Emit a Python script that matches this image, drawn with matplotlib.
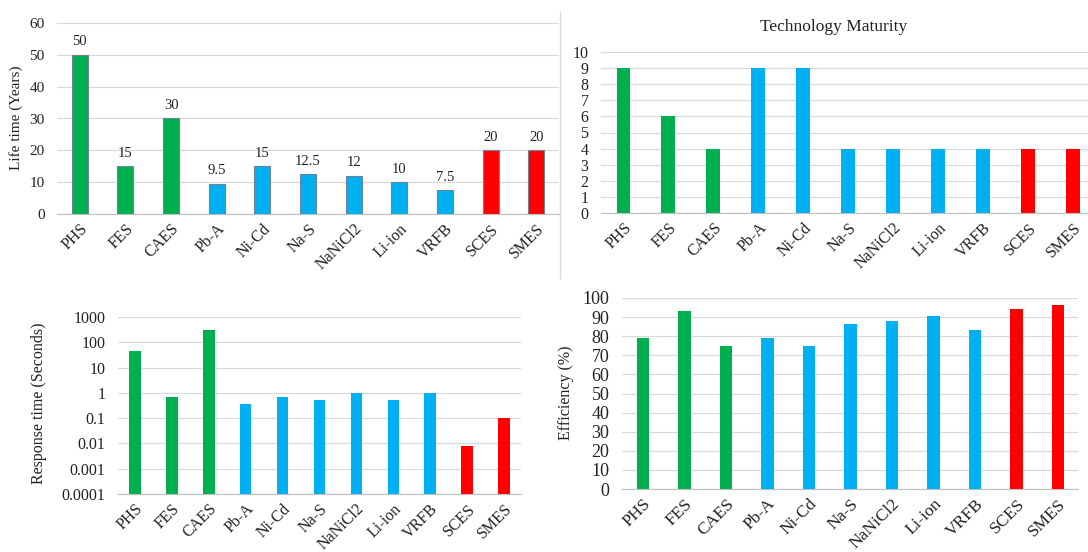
import matplotlib.pyplot as plt
import numpy as np

plt.rcParams['font.family'] = ['Liberation Serif', 'DejaVu Serif']

techs = ["PHS", "FES", "CAES", "Pb-A", "Ni-Cd", "Na-S", "NaNiCl2", "Li-ion", "VRFB", "SCES", "SMES"]
groups = ["mech", "mech", "mech", "chem", "chem", "chem", "chem", "chem", "chem", "elec", "elec"]
lifetime = [50, 15, 30, 9.5, 15, 12.5, 12, 10, 7.5, 20, 20]
lifetime_labels = ["50", "15", "30", "9.5", "15", "12.5", "12", "10", "7.5", "20", "20"]
maturity = [9, 6, 4, 9, 9, 4, 4, 4, 4, 4, 4]
response = [45, 0.7, 300, 0.35, 0.7, 0.5, 1, 0.5, 1, 0.008, 0.1]
efficiency = [79, 93, 75, 79, 75, 86.5, 88, 90.8, 83, 94.5, 96.2]

palette = {"mech": "#00b050", "chem": "#00b0f0", "elec": "#ff0000"}
colors = [palette[g] for g in groups]
TXT = "#222222"

W, H = 1088, 552
fig = plt.figure(figsize=(W / 100, H / 100), dpi=100)


def panel(x0, x1, ytop, ybot):
    # pixel box -> figure fraction
    return fig.add_axes([x0 / W, 1 - ybot / H, (x1 - x0) / W, (ybot - ytop) / H])


def style(ax, tick_size=11, cat_size=11.5):
    for s in ["top", "right", "left"]:
        ax.spines[s].set_visible(False)
    ax.spines["bottom"].set_color("#bfbfbf")
    ax.grid(axis="y", color="#d9d9d9", linewidth=0.9)
    ax.set_axisbelow(True)
    ax.tick_params(length=0, colors=TXT)
    ax.tick_params(axis="y", labelsize=tick_size, pad=9)
    ax.set_xticks(np.arange(len(techs)))
    ax.set_xticklabels(techs, rotation=45, ha="right", rotation_mode="anchor", fontsize=cat_size)
    ax.tick_params(axis="x", pad=5)


def ylabel(text, px, py, size=11):
    fig.text(px / W, 1 - py / H, text, rotation=90, ha="center", va="center", fontsize=size, color=TXT)


x = np.arange(len(techs))

# lifetime
ax1 = panel(57, 559, 23, 214)
bars = ax1.bar(x, lifetime, width=0.35, color=colors, edgecolor="#6f8295", linewidth=0.8)
ax1.set_xlim(-0.5, 10.5)
ax1.set_ylim(0, 60)
ax1.set_yticks(range(0, 61, 10))
style(ax1)
ylabel("Life time (Years)", 16, 118)
for b, v, t in zip(bars, lifetime, lifetime_labels):
    ax1.text(b.get_x() + b.get_width() / 2, v + 2, t, ha="center", va="bottom", fontsize=10.5, color=TXT)

# technology maturity
ax2 = panel(601, 1088, 52, 213)
ax2.bar(x, maturity, width=0.31, color=colors)
ax2.set_xlim(-0.5, 10.33)
ax2.set_ylim(0, 10)
ax2.set_yticks(range(0, 11))
style(ax2, tick_size=11.5)
fig.text(834 / W, 1 - 27 / H, "Technology Maturity", ha="center", va="center", fontsize=12.5, color=TXT)

# response time (log scale)
ax3 = panel(118, 521, 317, 494)
ax3.bar(x, response, width=0.31, color=colors, bottom=1e-4)
ax3.set_yscale("log")
ax3.set_xlim(-0.46, 10.46)
ax3.set_ylim(1e-4, 1000)
ticks = [1e-4, 1e-3, 1e-2, 1e-1, 1, 10, 100, 1000]
ax3.set_yticks(ticks)
ax3.set_yticklabels(["0.0001", "0.001", "0.01", "0.1", "1", "10", "100", "1000"])
ax3.minorticks_off()
style(ax3, tick_size=11.5)
ylabel("Response time (Seconds)", 39, 403, size=11.5)

# efficiency
ax4 = panel(622, 1078, 298, 489)
ax4.bar(x, efficiency, width=0.3, color=colors)
ax4.set_xlim(-0.5, 10.48)
ax4.set_ylim(0, 100)
ax4.set_yticks(range(0, 101, 10))
style(ax4, tick_size=13, cat_size=12.5)
ylabel("Efficiency (%)", 566, 393, size=11.5)

# thin separator between the two upper charts
fig.add_artist(plt.Line2D([560 / W, 560 / W], [1 - 12 / H, 1 - 278 / H], color="#d9d9d9", linewidth=1))

fig.savefig("out.png", dpi=100)
